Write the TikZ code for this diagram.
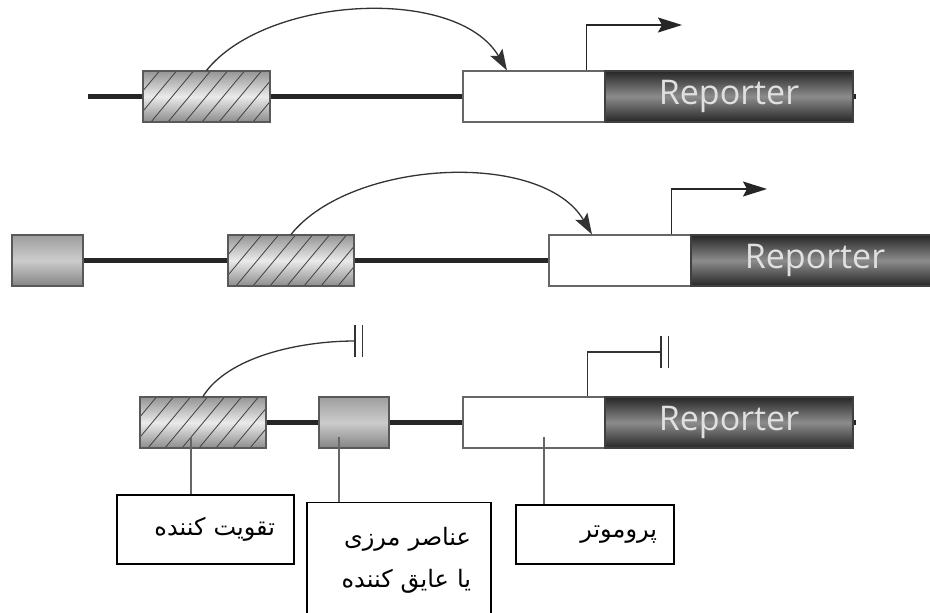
\documentclass[tikz,border=0pt]{standalone}
\usepackage{fontspec}
\usepackage{tikz}
\usetikzlibrary{positioning, arrows.meta}
\newfontfamily\arabicfont[Script=Arabic]{DejaVu Sans}
\newfontfamily\repfont{Open Sans}
\TeXXeTstate=1

\tikzset{
    dna/.style={line width=5pt, black!85},
    part/.style={draw=black!65, line width=1.1pt, minimum height=51pt, inner sep=0pt},
    hatchbox/.style={part, top color=black!42, bottom color=black!45, middle color=black!8,
        path picture={\foreach \k in {0,...,11}
            \draw[black!75, line width=0.8pt] ([xshift=\k*17pt-60pt]path picture bounding box.south west) -- ++(60pt,72pt);}},
    insbox/.style={part, top color=black!38, bottom color=black!48, middle color=black!20},
    prombox/.style={part, draw=black!60, fill=white},
    repbox/.style={part, draw=black!75, top color=black!85, bottom color=black!85, middle color=black!45,
        text=white!88!black, font=\repfont\fontsize{34}{34}\selectfont},
    loop/.style={line width=1.3pt, black!80, -{Stealth[length=21pt,width=14pt,inset=4pt]}},
    tss/.style={line width=1.4pt, black!85, -{Stealth[length=24pt,width=15pt,inset=4pt]}},
    blocked/.style={line width=1.3pt, black!80},
    stopbar/.style={line width=1.5pt, black!80},
    callout/.style={line width=1.2pt, black!60},
    tag/.style={draw, line width=1.4pt, align=right, inner ysep=0pt,
        font=\arabicfont\fontsize{24}{42}\selectfont}
}

\begin{document}
\begin{tikzpicture}[x=1pt, y=-1pt]
    \path[use as bounding box, fill=white] (0,0) rectangle (930,613);

    % first construct: enhancer acts on the promoter
    \node (enh1) [hatchbox, minimum width=127pt] at (206.5,96.5) {};
    \node (prom1) [prombox, minimum width=142pt] at (534,96.5) {};
    \node (rep1) [repbox, minimum width=248pt] at (729,96.5) {Reporter};
    \coordinate (l1) at (88,96.5);
    \coordinate (go1) at (682,25);
    \draw [dna] (l1) -- (enh1.west);
    \draw [dna] (enh1.east) -- (prom1.west);
    \draw [dna] (rep1.east) -- ++(2,0);
    \draw [loop] (enh1.north) .. controls +(60,-75) and +(-50,-85) .. ([xshift=-27pt]prom1.north);
    \draw [tss] ([xshift=-19pt]prom1.north east) |- (go1);

    % second construct: insulator upstream of the enhancer
    \node (ins2) [insbox, minimum width=71pt] at (47.5,260.5) {};
    \node (enh2) [hatchbox, minimum width=126pt] at (291,260.5) {};
    \node (prom2) [prombox, minimum width=142pt] at (620,260.5) {};
    \node (rep2) [repbox, minimum width=248pt] at (815,260.5) {Reporter};
    \coordinate (go2) at (767,189);
    \draw [dna] (ins2.east) -- (enh2.west);
    \draw [dna] (enh2.east) -- (prom2.west);
    \draw [loop] (enh2.north) .. controls +(60,-75) and +(-50,-85) .. ([xshift=-28pt]prom2.north);
    \draw [tss] ([xshift=-20pt]prom2.north east) |- (go2);

    % third construct: insulator between enhancer and promoter
    \node (enh3) [hatchbox, minimum width=126pt] at (203,422.5) {};
    \node (ins3) [insbox, minimum width=70pt] at (354,422.5) {};
    \node (prom3) [prombox, minimum width=142pt] at (534,422.5) {};
    \node (rep3) [repbox, minimum width=248pt] at (729,422.5) {Reporter};
    \coordinate (stop1) at (355,341);
    \coordinate (stop2) at (661,352);
    \draw [dna] (enh3.east) -- (ins3.west);
    \draw [dna] (ins3.east) -- (prom3.west);
    \draw [dna] (rep3.east) -- ++(2,0);
    \draw [blocked] (enh3.north) .. controls +(25,-40) and +(-55,0) .. (stop1);
    \draw [blocked] ([xshift=-18pt]prom3.north east) |- (stop2);
    % blocking bars
    \foreach \s in {stop1, stop2} {
        \draw [stopbar] (\s) ++(0,-16) -- ++(0,32);
        \draw [stopbar] (\s) ++(7.5,-16) -- ++(0,32);
    }

    % labels
    \node (lab1) [tag, minimum width=177pt, minimum height=69pt, inner xsep=19pt, text width=139pt]
        at (205.5,529.5) {\beginR تقویت کننده\endR};
    \node (lab2) [tag, minimum width=184pt, minimum height=115pt, inner xsep=20pt, text width=144pt]
        at (399,560) {\beginR عناصر مرزی\endR\\ \beginR یا عایق کننده\endR};
    \node (lab3) [tag, minimum width=158pt, minimum height=59pt, inner xsep=17pt, text width=124pt]
        at (595,534.5) {\beginR پروموتر\endR};
    \draw [callout] ([xshift=-12pt, yshift=-14.5pt]enh3.center) coordinate (c1) -- (c1 |- lab1.north);
    \draw [callout] ([xshift=-15pt, yshift=-14.5pt]ins3.center) coordinate (c2) -- (c2 |- lab2.north);
    \draw [callout] ([xshift=10pt, yshift=-14.5pt]prom3.center) coordinate (c3) -- (c3 |- lab3.north);
\end{tikzpicture}
\end{document}
